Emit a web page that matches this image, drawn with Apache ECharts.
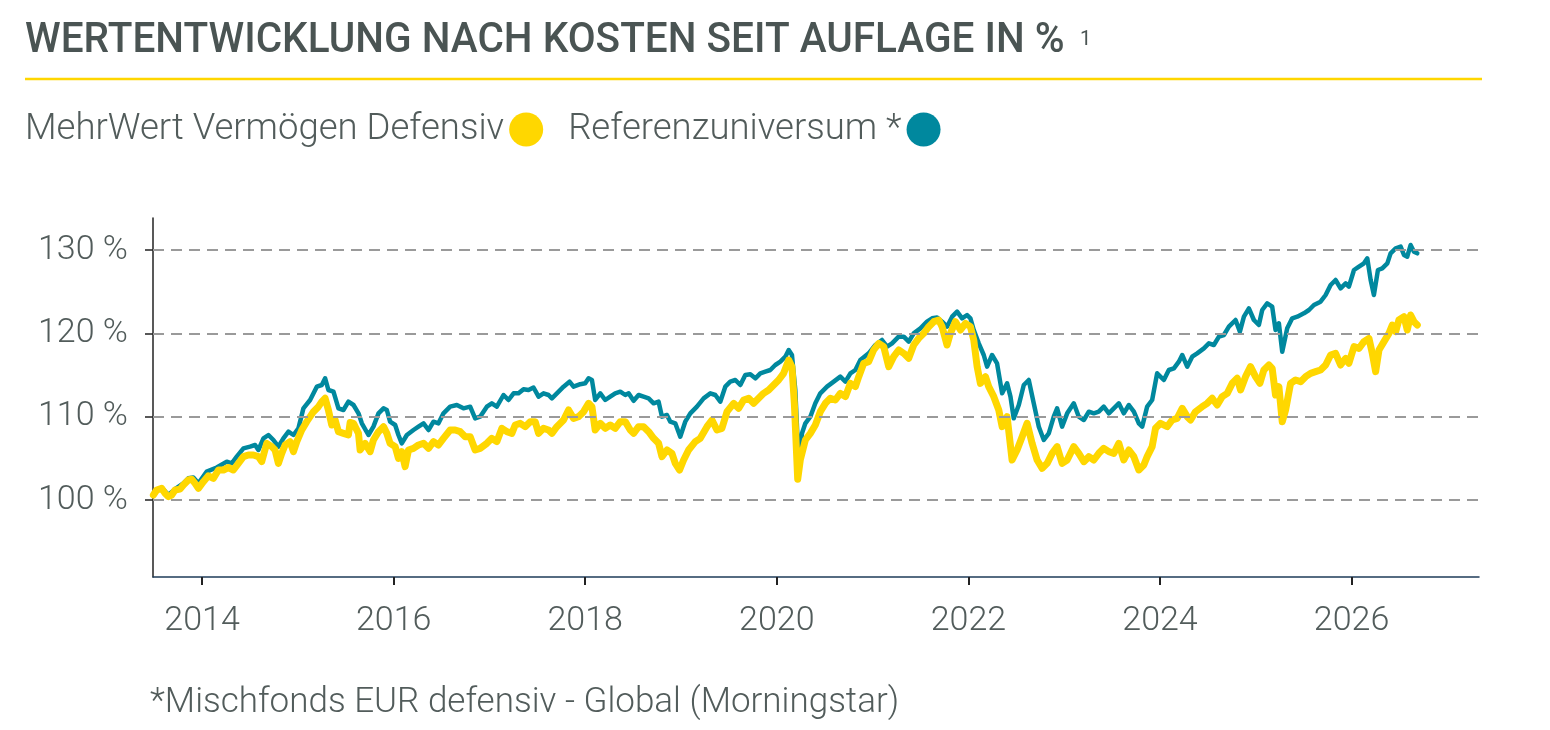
<!DOCTYPE html>
<html>
<head>
<meta charset="utf-8">
<script src="https://cdn.jsdelivr.net/npm/echarts@6/dist/echarts.min.js"></script>
<style>html,body{margin:0;padding:0;background:#fff;}#c{width:1550px;height:730px;}</style>
</head>
<body>
<div id="c"></div>
<script>
const TITLE = 'WERTENTWICKLUNG NACH KOSTEN SEIT AUFLAGE IN %';
const TITLE_NOTE = '1';
const FOOTNOTE = '*Mischfonds EUR defensiv - Global (Morningstar)';
const SERIES_NAMES = ['MehrWert Vermögen Defensiv', 'Referenzuniversum *'];
const X_TICKS = [2014, 2016, 2018, 2020, 2022, 2024, 2026];
const Y_TICKS = [100, 110, 120, 130];
const X_RANGE = [2013.488, 2027.33];
const Y_RANGE = [90.76, 133.84];

const MWV_YEARS = [2013.492,2013.527,2013.579,2013.614,2013.648,2013.683,2013.718,2013.770,2013.805,2013.857,2013.892,2013.927,2013.962,2014.014,2014.066,2014.118,2014.171,2014.223,2014.275,2014.327,2014.379,2014.432,2014.484,2014.536,2014.588,2014.623,2014.675,2014.728,2014.762,2014.797,2014.832,2014.867,2014.919,2014.954,2014.989,2015.041,2015.093,2015.163,2015.215,2015.250,2015.285,2015.319,2015.354,2015.389,2015.424,2015.476,2015.528,2015.546,2015.581,2015.633,2015.650,2015.702,2015.755,2015.789,2015.842,2015.894,2015.929,2015.963,2016.016,2016.050,2016.085,2016.120,2016.155,2016.207,2016.259,2016.312,2016.364,2016.416,2016.468,2016.520,2016.590,2016.642,2016.695,2016.747,2016.799,2016.851,2016.903,2016.973,2017.025,2017.077,2017.130,2017.182,2017.234,2017.269,2017.321,2017.373,2017.426,2017.478,2017.513,2017.565,2017.617,2017.652,2017.704,2017.774,2017.826,2017.878,2017.930,2017.983,2018.035,2018.070,2018.104,2018.157,2018.209,2018.261,2018.313,2018.366,2018.418,2018.470,2018.505,2018.557,2018.609,2018.662,2018.714,2018.766,2018.801,2018.853,2018.905,2018.940,2018.985,2019.027,2019.079,2019.149,2019.201,2019.271,2019.323,2019.375,2019.427,2019.480,2019.549,2019.601,2019.654,2019.706,2019.758,2019.810,2019.862,2019.915,2019.967,2020.019,2020.071,2020.124,2020.158,2020.183,2020.218,2020.245,2020.298,2020.350,2020.402,2020.454,2020.507,2020.559,2020.611,2020.663,2020.716,2020.768,2020.820,2020.855,2020.907,2020.959,2021.011,2021.064,2021.116,2021.168,2021.220,2021.272,2021.325,2021.377,2021.429,2021.481,2021.534,2021.586,2021.638,2021.690,2021.725,2021.777,2021.812,2021.864,2021.917,2021.969,2022.021,2022.056,2022.091,2022.125,2022.178,2022.212,2022.265,2022.317,2022.352,2022.404,2022.456,2022.508,2022.561,2022.613,2022.665,2022.717,2022.770,2022.822,2022.874,2022.926,2022.978,2023.031,2023.100,2023.152,2023.205,2023.257,2023.309,2023.361,2023.413,2023.466,2023.518,2023.570,2023.622,2023.675,2023.727,2023.779,2023.831,2023.866,2023.918,2023.953,2024.005,2024.075,2024.127,2024.179,2024.232,2024.284,2024.319,2024.371,2024.440,2024.493,2024.545,2024.597,2024.649,2024.702,2024.754,2024.806,2024.841,2024.893,2024.945,2024.997,2025.043,2025.084,2025.137,2025.171,2025.206,2025.241,2025.276,2025.311,2025.363,2025.415,2025.468,2025.520,2025.572,2025.624,2025.676,2025.729,2025.781,2025.833,2025.885,2025.938,2025.972,2026.025,2026.077,2026.129,2026.181,2026.216,2026.251,2026.286,2026.338,2026.390,2026.425,2026.460,2026.494,2026.547,2026.581,2026.616,2026.651,2026.686];
const MWV_VALUES = [100.6,101.2,101.4,100.8,100.4,100.6,101.2,101.3,101.8,102.4,102.5,102.0,101.4,102.2,102.9,102.6,103.6,103.6,103.9,103.6,104.4,105.2,105.4,105.4,105.2,104.6,106.8,106.4,106.0,104.4,105.6,106.6,107.0,105.8,107.0,108.4,109.4,110.6,111.2,111.8,112.2,110.8,109.0,109.6,108.2,108.0,107.8,109.3,109.2,108.0,106.0,106.8,105.8,107.2,108.2,108.8,108.0,106.8,106.4,105.0,105.8,104.0,106.0,106.2,106.6,106.8,106.2,107.0,106.6,107.4,108.4,108.4,108.2,107.6,107.6,106.0,106.2,106.8,107.4,107.0,108.6,108.2,108.0,109.0,109.2,108.8,109.4,109.4,108.0,108.6,108.4,108.0,108.8,109.6,110.8,109.8,110.0,110.6,111.6,111.2,108.4,109.2,108.6,109.0,108.6,109.4,109.4,108.4,108.0,108.8,108.8,108.2,107.4,106.8,105.2,106.0,105.6,104.4,103.6,104.8,106.0,107.0,107.4,108.8,109.6,108.4,108.6,110.6,111.6,111.0,112.0,112.2,111.6,112.2,112.8,113.2,113.8,114.4,115.2,116.8,116.0,111.6,102.5,104.8,107.2,108.0,109.0,110.6,111.6,112.2,112.0,112.8,112.4,114.0,113.6,114.8,116.4,116.6,118.0,118.8,118.4,116.0,117.2,118.0,117.6,117.0,118.6,119.4,120.0,120.8,121.4,121.6,120.8,118.6,120.0,121.4,120.4,121.2,120.8,119.2,116.0,114.0,114.8,113.6,112.4,110.8,108.8,110.0,104.8,106.0,107.6,109.2,106.8,104.8,103.8,104.4,105.6,106.4,104.4,104.8,106.4,105.6,104.6,105.2,104.8,105.6,106.2,105.8,105.6,106.8,104.8,106.0,105.2,103.6,104.2,105.2,106.4,108.6,109.2,108.8,109.6,109.8,111.0,110.0,109.6,110.6,111.2,111.6,112.2,111.4,112.4,112.8,114.0,114.6,113.2,114.8,116.0,114.8,114.0,115.6,116.2,115.8,112.6,113.6,109.4,110.8,114.0,114.4,114.2,114.8,115.2,115.4,115.6,116.2,117.4,117.6,116.2,117.0,116.4,118.4,118.2,119.0,119.4,117.6,115.4,118.0,119.0,120.0,121.0,120.2,121.6,122.0,120.4,122.2,121.4,121.0];

const REF_YEARS = [2013.492,2013.579,2013.648,2013.718,2013.805,2013.857,2013.909,2013.962,2014.049,2014.153,2014.258,2014.310,2014.362,2014.432,2014.501,2014.554,2014.588,2014.641,2014.693,2014.745,2014.797,2014.849,2014.902,2014.954,2015.006,2015.058,2015.128,2015.198,2015.250,2015.285,2015.319,2015.372,2015.424,2015.476,2015.528,2015.581,2015.633,2015.668,2015.737,2015.789,2015.842,2015.894,2015.929,2015.963,2016.016,2016.050,2016.085,2016.138,2016.207,2016.259,2016.312,2016.364,2016.416,2016.468,2016.520,2016.590,2016.660,2016.729,2016.799,2016.851,2016.903,2016.973,2017.025,2017.077,2017.147,2017.199,2017.252,2017.304,2017.356,2017.408,2017.460,2017.513,2017.565,2017.617,2017.652,2017.704,2017.774,2017.836,2017.878,2017.948,2018.000,2018.035,2018.070,2018.104,2018.157,2018.209,2018.261,2018.313,2018.366,2018.418,2018.453,2018.505,2018.557,2018.609,2018.662,2018.714,2018.766,2018.801,2018.853,2018.888,2018.940,2018.992,2019.044,2019.097,2019.166,2019.236,2019.306,2019.358,2019.410,2019.462,2019.514,2019.567,2019.619,2019.671,2019.723,2019.776,2019.828,2019.880,2019.932,2019.984,2020.037,2020.089,2020.124,2020.158,2020.193,2020.228,2020.263,2020.298,2020.350,2020.402,2020.454,2020.524,2020.594,2020.663,2020.716,2020.768,2020.820,2020.872,2020.959,2021.029,2021.098,2021.151,2021.203,2021.272,2021.325,2021.377,2021.429,2021.499,2021.568,2021.621,2021.673,2021.725,2021.777,2021.830,2021.882,2021.934,2021.986,2022.021,2022.056,2022.108,2022.160,2022.195,2022.247,2022.299,2022.352,2022.404,2022.439,2022.473,2022.526,2022.578,2022.630,2022.682,2022.735,2022.787,2022.839,2022.891,2022.926,2022.978,2023.031,2023.100,2023.152,2023.205,2023.257,2023.309,2023.361,2023.413,2023.466,2023.518,2023.570,2023.622,2023.675,2023.727,2023.779,2023.814,2023.866,2023.918,2023.970,2024.040,2024.092,2024.145,2024.197,2024.232,2024.284,2024.336,2024.388,2024.458,2024.510,2024.562,2024.615,2024.667,2024.719,2024.789,2024.834,2024.876,2024.928,2024.980,2025.032,2025.067,2025.119,2025.171,2025.206,2025.241,2025.276,2025.328,2025.380,2025.433,2025.502,2025.555,2025.607,2025.676,2025.729,2025.781,2025.833,2025.885,2025.938,2025.972,2026.025,2026.077,2026.129,2026.164,2026.199,2026.233,2026.275,2026.320,2026.373,2026.407,2026.460,2026.512,2026.547,2026.581,2026.616,2026.651,2026.686];
const REF_VALUES = [100.8,101.5,100.6,101.3,102.0,102.6,102.7,102.0,103.4,103.9,104.6,104.4,105.2,106.2,106.4,106.6,106.0,107.4,107.8,107.2,106.4,107.4,108.2,107.8,108.6,111.0,112.0,113.6,113.8,114.6,113.2,113.0,111.0,110.8,111.8,111.4,110.4,109.2,107.8,108.8,110.4,111.0,110.8,109.4,109.0,107.8,106.8,107.8,108.4,108.8,109.2,108.4,109.4,109.2,110.4,111.2,111.4,111.0,111.2,109.8,110.0,111.2,111.6,111.2,112.6,112.0,112.8,112.8,113.3,113.2,113.5,112.4,112.8,112.6,112.2,112.8,113.6,114.2,113.6,113.9,114.0,114.6,114.4,112.0,112.8,112.0,112.4,112.8,113.0,112.6,112.8,111.9,112.6,112.4,112.2,111.6,111.8,110.0,110.2,109.4,109.2,107.6,109.4,110.4,111.2,112.2,112.8,112.6,111.8,113.6,114.2,114.4,113.8,115.0,115.1,114.6,115.2,115.4,115.6,116.2,116.6,117.2,118.0,117.4,113.2,104.4,108.0,109.2,110.0,111.6,112.8,113.6,114.2,114.8,114.2,115.2,115.6,116.8,117.6,118.6,119.2,118.4,118.8,119.6,119.6,119.0,120.0,120.6,121.4,121.8,121.9,121.4,120.8,122.0,122.6,121.8,122.2,121.8,120.4,118.8,117.4,116.0,117.4,116.4,112.8,114.0,112.4,109.8,111.4,113.8,114.4,111.6,108.8,107.2,108.0,110.0,111.0,108.8,110.4,111.6,110.0,109.6,110.6,110.4,110.6,111.2,110.4,111.0,111.6,110.4,111.4,110.6,109.2,108.8,111.2,112.0,115.2,114.4,115.6,115.8,116.6,117.4,116.0,117.2,117.6,118.2,118.8,118.6,119.6,119.8,120.8,121.6,120.2,122.0,123.0,121.6,121.0,122.8,123.6,123.2,120.4,121.2,117.8,120.6,121.8,122.0,122.4,122.8,123.4,123.8,124.6,125.8,126.4,125.4,126.0,125.6,127.6,128.0,128.4,129.0,126.4,124.6,127.6,127.8,128.4,129.6,130.2,130.4,129.4,129.2,130.6,129.8,129.6];

const COLORS = { mwv: '#FFD700', ref: '#00889E', text: '#525C5B', title: '#4A5453', grid: '#9A9A9A' };

const toPairs = (xs, ys) => xs.map((x, i) => [x, ys[i]]);
const LABEL_FONT = { fontFamily: 'Roboto', fontWeight: 300, fontSize: 34, color: COLORS.text };

const chart = echarts.init(document.getElementById('c'), null, { renderer: 'canvas' });
chart.setOption({
  animation: false,
  backgroundColor: '#fff',
  grid: { left: 153, right: 71, top: 218, bottom: 153, containLabel: false },
  legend: {
    data: SERIES_NAMES,
    left: 25, top: 111, padding: 0,
    align: 'right',
    icon: 'circle',
    itemWidth: 34, itemHeight: 34, itemGap: 25,
    selectedMode: false,
    textStyle: { fontFamily: 'Roboto', fontWeight: 300, fontSize: 36.5, color: COLORS.text }
  },
  graphic: [
    { type: 'text', x: 25, y: 41, scaleX: 0.965, originX: 0,
      style: { text: TITLE, fontFamily: 'Roboto', fontWeight: 500, fontSize: 42, fill: COLORS.title, verticalAlign: 'middle', align: 'left' } },
    { type: 'text', x: 1080, y: 30,
      style: { text: TITLE_NOTE, fontFamily: 'Roboto', fontWeight: 400, fontSize: 20, fill: COLORS.title, verticalAlign: 'top' } },
    { type: 'line', shape: { x1: 25, y1: 79, x2: 1482, y2: 79 }, style: { stroke: '#FFD600', lineWidth: 2.5 } },
    { type: 'text', x: 150, y: 703,
      style: { text: FOOTNOTE, fontFamily: 'Roboto', fontWeight: 300, fontSize: 35, fill: COLORS.text, verticalAlign: 'middle' } }
  ],
  xAxis: {
    type: 'value', min: X_RANGE[0], max: X_RANGE[1],
    axisLine: { onZero: false, lineStyle: { color: '#1F3D5A', width: 1.5 } },
    axisTick: { show: true, length: 8, customValues: X_TICKS, lineStyle: { color: '#222', width: 2 } },
    axisLabel: Object.assign({ customValues: X_TICKS, margin: 27, formatter: v => String(Math.round(v)) }, LABEL_FONT),
    splitLine: { show: false }
  },
  yAxis: {
    type: 'value', min: Y_RANGE[0], max: Y_RANGE[1],
    axisLine: { show: true, lineStyle: { color: '#222', width: 1.5 } },
    axisTick: { show: true, length: 8, customValues: Y_TICKS, lineStyle: { color: '#222', width: 1.5 } },
    axisLabel: Object.assign({ customValues: Y_TICKS, margin: 25, formatter: v => Math.round(v) + ' %' }, LABEL_FONT),
    splitLine: { show: false }
  },
  series: [
    { name: 'grid', type: 'line', data: [], z: 1, silent: true,
      markLine: { silent: true, symbol: ['none', 'none'], label: { show: false },
        lineStyle: { type: [11, 7], color: COLORS.grid, width: 2 },
        data: Y_TICKS.map(v => ({ yAxis: v })) } },
    { name: SERIES_NAMES[1], type: 'line', z: 3, data: toPairs(REF_YEARS, REF_VALUES), showSymbol: false, symbol: 'none',
      color: COLORS.ref, lineStyle: { color: COLORS.ref, width: 4.5, join: 'round', cap: 'round' } },
    { name: SERIES_NAMES[0], type: 'line', z: 4, data: toPairs(MWV_YEARS, MWV_VALUES), showSymbol: false, symbol: 'none',
      color: COLORS.mwv, lineStyle: { color: COLORS.mwv, width: 7, join: 'round', cap: 'round' } }
  ]
});
</script>
</body>
</html>
